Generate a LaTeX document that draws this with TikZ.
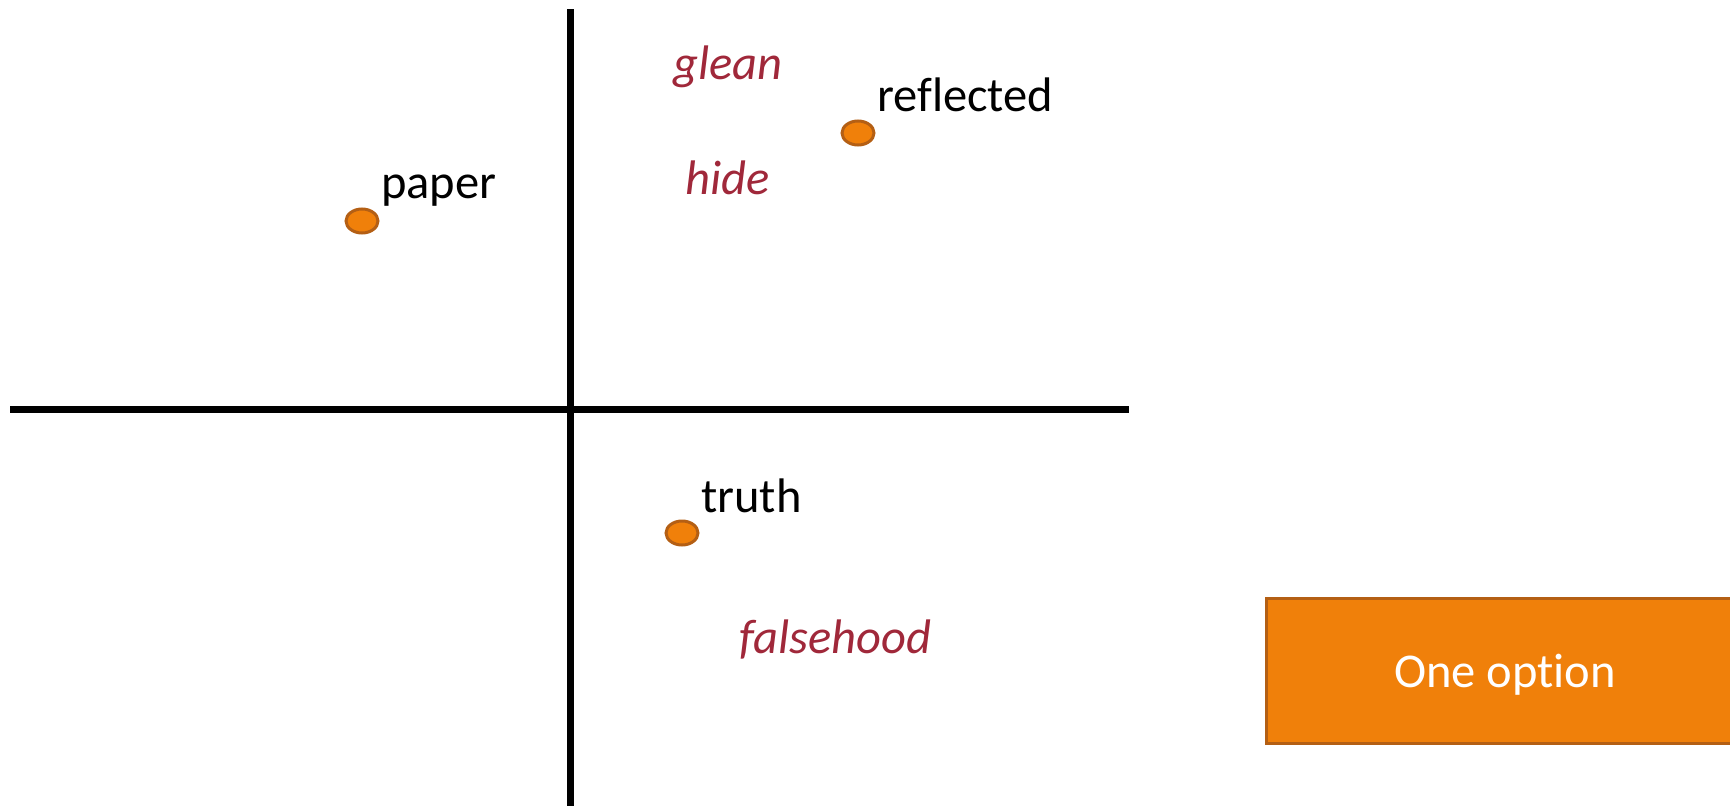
\documentclass[tikz,border=0pt]{standalone}
\usepackage{fontspec}
\setmainfont{Carlito}[Ligatures=NoCommon]
\usetikzlibrary{shapes.geometric}
\definecolor{dotfill}{RGB}{240,128,10}
\definecolor{dotline}{RGB}{180,95,20}
\definecolor{wordred}{RGB}{160,40,58}
\tikzset{
  dot/.style={ellipse, draw=dotline, fill=dotfill, line width=3pt, minimum width=32pt, minimum height=24pt, inner sep=0pt},
  word/.style={anchor=base west, inner sep=0pt, font=\fontsize{48.5}{52}\selectfont},
  redword/.style={word, text=wordred, font=\fontsize{48.5}{52}\selectfont\itshape},
  axis/.style={line width=7.5pt}
}
\begin{document}
\begin{tikzpicture}[x=1pt,y=-1pt]
\useasboundingbox (0,0) rectangle (1730,806);
\begin{scope}
\clip (0,0) rectangle (1730,806);
% axes
\coordinate (vtop) at (570.5,9);
\coordinate (vbot) at (570.5,810);
\coordinate (hl) at (10,409.5);
\coordinate (hr) at (1129,409.5);
\draw[axis] (vtop) -- (vbot);
\draw[axis] (hl) -- (hr);
% dots
\node[dot] (paperdot) at (362,221) {};
\node[dot] (refdot) at (858,133) {};
\node[dot] (truthdot) at (682,533) {};
% labels
\node[word] (paper) at (381,198) {paper};
\node[word] (reflected) at (877,111) {reflected};
\node[word] (truth) at (701,512) {truth};
\node[redword] (glean) at (673,79) {glean};
\node[redword] (hide) at (685,194) {hide};
\node[redword] (falsehood) at (739,653) {falsehood};
% box
\node[draw=dotline, fill=dotfill, line width=2.5pt, minimum width=480pt, minimum height=145pt, inner sep=0pt, anchor=north west] (box) at (1265,597) {};
\node[anchor=base, inner sep=0pt, text=white, font=\fontsize{48.5}{52}\selectfont] (opt) at (1505,687) {One option};
\end{scope}
\end{tikzpicture}
\end{document}
